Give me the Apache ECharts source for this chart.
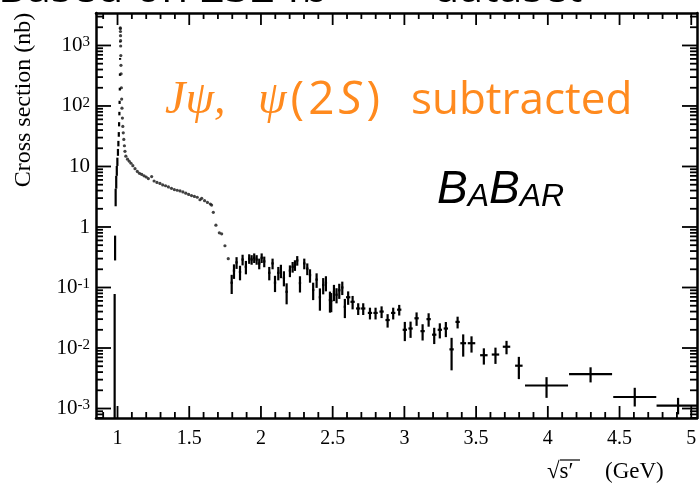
<!DOCTYPE html>
<html>
<head>
<meta charset="utf-8">
<script src="https://cdn.jsdelivr.net/npm/echarts@6/dist/echarts.min.js"></script>
<style>
  html, body { margin: 0; padding: 0; background: #fff; }
  #chart { width: 700px; height: 487px; }
</style>
</head>
<body>
<div id="chart"></div>
<script>
// e+e- -> K+K- cross section (nb) versus sqrt(s') (GeV), phi(1020) region and above.

// Rising edge of the phi peak: points with vertical error bars
const risingX  = [0.980, 0.983, 0.987, 0.991, 0.995, 0.999, 1.003, 1.006, 1.009, 1.011, 1.013, 1.0145, 1.016, 1.017, 1.018, 1.019];
const risingY  = [0.03, 0.45, 3.2, 5.6, 8.5, 12, 17, 24, 34, 50, 75, 115, 190, 330, 600, 1150];
const risingLo = [0.0001, 0.28, 2.2, 4.3, 7.0, 10.2, 15, 21.5, 31, 46, 70, 108, 180, 315, 580, 1120];
const risingHi = [0.078, 0.72, 4.3, 7.0, 10.2, 14, 19.5, 26.5, 37, 54, 80, 122, 200, 345, 620, 1180];

// Top and falling edge of the peak (small errors, drawn as dots)
const peakX = [1.0195, 1.020, 1.0205, 1.021, 1.0215, 1.022, 1.023, 1.024, 1.025, 1.027, 1.029, 1.031, 1.034, 1.037, 1.040, 1.044, 1.048, 1.052];
const peakY = [1950, 1900, 1700, 1450, 1200, 980, 680, 470, 340, 200, 130, 92, 63, 46, 36, 28, 22, 17.8];

// Continuum up to the drop near 1.7 GeV (dots)
const contX = [1.058, 1.070, 1.082, 1.094, 1.107, 1.122, 1.138, 1.153, 1.169, 1.185, 1.200, 1.215, 1.238, 1.255, 1.275, 1.296, 1.315, 1.335, 1.355, 1.376,
               1.396, 1.416, 1.436, 1.456, 1.476, 1.496, 1.516, 1.536, 1.556, 1.575, 1.587, 1.607, 1.627, 1.647, 1.656, 1.668, 1.686, 1.710, 1.726, 1.749, 1.772];
const contY = [14.8, 13.2, 12.2, 11.3, 10.3, 9.2, 8.3, 7.7, 7.4, 7.0, 6.7, 6.3, 6.8, 5.75, 5.45, 5.25, 4.95, 4.8, 4.6, 4.35,
               4.15, 4.05, 3.95, 3.8, 3.62, 3.45, 3.3, 3.2, 3.1, 2.82, 2.98, 2.72, 2.55, 2.4, 2.3, 1.75, 1.07, 0.80, 0.77, 0.49, 0.30];

// Binned points above 1.78 GeV: value, relative error, half bin width
const binX = [1.796, 1.812, 1.830, 1.854, 1.872, 1.895, 1.918, 1.935, 1.953, 1.970, 1.988, 2.005, 2.023, 2.058, 2.081, 2.098, 2.121, 2.139, 2.160, 2.179,
              2.202, 2.221, 2.237, 2.253, 2.272, 2.302, 2.323, 2.342, 2.364, 2.388, 2.411, 2.434, 2.453, 2.481, 2.490, 2.509, 2.527, 2.546, 2.567, 2.585,
              2.608, 2.639, 2.678, 2.713, 2.760, 2.799, 2.841, 2.883, 2.922, 2.964, 3.003, 3.043, 3.085, 3.127, 3.169, 3.208, 3.247, 3.289, 3.329, 3.371,
              3.410, 3.468, 3.554, 3.635, 3.712, 3.798];
const binY = [0.12, 0.19, 0.26, 0.18, 0.29, 0.22, 0.30, 0.29, 0.31, 0.29, 0.25, 0.31, 0.27, 0.175, 0.25, 0.12, 0.175, 0.19, 0.145, 0.085,
              0.19, 0.22, 0.235, 0.28, 0.118, 0.25, 0.205, 0.16, 0.091, 0.135, 0.069, 0.11, 0.12, 0.062, 0.060, 0.085, 0.076, 0.090, 0.100, 0.048,
              0.069, 0.058, 0.045, 0.045, 0.038, 0.038, 0.040, 0.029, 0.038, 0.043, 0.020, 0.021, 0.031, 0.019, 0.030, 0.0166, 0.020, 0.021, 0.0095, 0.027,
              0.012, 0.012, 0.0076, 0.0078, 0.0105, 0.0051];
const binErr = [0.35, 0.27, 0.22, 0.27, 0.2, 0.25, 0.18, 0.18, 0.18, 0.18, 0.2, 0.18, 0.2, 0.25, 0.2, 0.3, 0.25, 0.25, 0.28, 0.38,
                0.22, 0.2, 0.2, 0.18, 0.3, 0.2, 0.22, 0.25, 0.32, 0.27, 0.4, 0.3, 0.28, 0.38, 0.35, 0.3, 0.28, 0.28, 0.25, 0.35,
                0.25, 0.25, 0.22, 0.22, 0.22, 0.22, 0.22, 0.25, 0.22, 0.2, 0.35, 0.3, 0.25, 0.3, 0.25, 0.3, 0.28, 0.28, 0.55, 0.22,
                0.4, 0.3, 0.3, 0.3, 0.25, 0.4];
const binHalfWidth = [0.008, 0.008, 0.008, 0.008, 0.008, 0.008, 0.008, 0.008, 0.008, 0.008, 0.008, 0.008, 0.008, 0.008, 0.008, 0.008, 0.008, 0.008, 0.008, 0.008,
                      0.008, 0.008, 0.008, 0.008, 0.008, 0.008, 0.008, 0.008, 0.008, 0.008, 0.008, 0.008, 0.008, 0.008, 0.008, 0.008, 0.008, 0.008, 0.008, 0.008,
                      0.015, 0.015, 0.015, 0.015, 0.015, 0.015, 0.015, 0.015, 0.015, 0.015, 0.015, 0.015, 0.015, 0.015, 0.015, 0.015, 0.015, 0.015, 0.015, 0.015,
                      0.02, 0.026, 0.026, 0.026, 0.026, 0.026];

// Wide bins at high mass
const wideX = [3.991, 4.298, 4.606, 4.908];
const wideY = [0.0024, 0.0037, 0.00155, 0.00112];
const wideLo = [0.0015, 0.0027, 0.00108, 0.0008];
const wideHi = [0.0033, 0.0048, 0.0022, 0.0015];
const wideHalfWidth = [0.15, 0.15, 0.15, 0.15];

// Axis ranges and ticks
const xRange = [0.85, 5.04];
const xMajorTicks = [1, 1.5, 2, 2.5, 3, 3.5, 4, 4.5, 5];
const xTickLabels = ['1', '1.5', '2', '2.5', '3', '3.5', '4', '4.5', '5'];
const xMinorTicks = [0.9, 1.1, 1.2, 1.3, 1.4, 1.6, 1.7, 1.8, 1.9, 2.1, 2.2, 2.3, 2.4, 2.6, 2.7, 2.8, 2.9,
                     3.1, 3.2, 3.3, 3.4, 3.6, 3.7, 3.8, 3.9, 4.1, 4.2, 4.3, 4.4, 4.6, 4.7, 4.8, 4.9];
const yRangeNb = [6.97e-4, 3440];
const yDecadeExponents = [-3, -2, -1, 0, 1, 2, 3];
const yMinorMultipliers = [2, 3, 4, 5, 6, 7, 8, 9];

const SERIF = "'Liberation Serif', 'DejaVu Serif', serif";
const SANS = "'Open Sans', 'Liberation Sans', sans-serif";
const ORANGE = '#FF8A1E';
const lg = Math.log10;

const GRID = { left: 96, right: 3, top: 13, bottom: 69 };
const PLOT_W = 700 - GRID.left - GRID.right;
const PLOT_H = 487 - GRID.top - GRID.bottom;

const yMin = lg(yRangeNb[0]), yMax = lg(yRangeNb[1]);
const yMinor = [];
for (let e = -4; e <= 3; e++) {
  yMinorMultipliers.forEach(m => {
    const v = lg(m) + e;
    if (v > yMin && v < yMax) yMinor.push(v);
  });
}

function yLabel(v) {
  const e = Math.round(v);
  if (e === 0) return '{m|1}';
  if (e === 1) return '{m|10}';
  return '{m|10}{s|' + e + '}';
}

// Segment data: [x, log y, log low, log high, half width]
const markData = [];
risingX.forEach((x, i) => markData.push([x, lg(risingY[i]), lg(risingLo[i]), lg(risingHi[i]), 0]));
binX.forEach((x, i) => {
  const y = binY[i], e = binErr[i];
  markData.push([x, lg(y), lg(y * (1 - e)), lg(y * (1 + e)), binHalfWidth[i]]);
});
wideX.forEach((x, i) => markData.push([x, lg(wideY[i]), lg(wideLo[i]), lg(wideHi[i]), wideHalfWidth[i]]));

const dotData = [];
peakX.forEach((x, i) => dotData.push([x, lg(peakY[i])]));
contX.forEach((x, i) => dotData.push([x, lg(contY[i])]));

// Frame tick marks as small filled bars, inward on all four sides
function xPos(v) { return GRID.left + (v - xRange[0]) / (xRange[1] - xRange[0]) * PLOT_W; }
function yPos(v) { return GRID.top + (yMax - v) / (yMax - yMin) * PLOT_H; }
const tickGraphics = [];
function tickRect(x, y, w, h) {
  return { type: 'rect', z: 60, silent: true, shape: { x: x, y: y, width: w, height: h }, style: { fill: '#000' } };
}
function addXTick(v, len) {
  const p = xPos(v);
  tickGraphics.push(tickRect(p - 0.9, GRID.top, 1.8, len));
  tickGraphics.push(tickRect(p - 0.9, GRID.top + PLOT_H - len, 1.8, len));
}
function addYTick(v, len) {
  const p = yPos(v);
  tickGraphics.push(tickRect(GRID.left, p - 0.9, len, 1.8));
  tickGraphics.push(tickRect(GRID.left + PLOT_W - len, p - 0.9, len, 1.8));
}
xMajorTicks.forEach(v => addXTick(v, 12));
xMinorTicks.forEach(v => addXTick(v, 6));
yDecadeExponents.forEach(v => addYTick(v, 15));
yMinor.forEach(v => addYTick(v, 7));

const textGraphics = [
  { type: 'text', x: -2, y: 11, style: { text: 'Based on 232 fb', fontFamily: SANS, fontSize: 44, fill: '#000', verticalAlign: 'bottom' } },
  { type: 'text', x: 433, y: 11, style: { text: 'dataset', fontFamily: SANS, fontSize: 43, fill: '#000', verticalAlign: 'bottom' } },
  {
    type: 'text', x: 24, y: 100, rotation: Math.PI / 2,
    style: { text: 'Cross section (nb)', fontFamily: SERIF, fontSize: 24, fill: '#000', align: 'center', verticalAlign: 'middle' }
  },
  { type: 'text', x: 547, y: 472, style: { text: '√s′', fontFamily: SERIF, fontSize: 23, fill: '#000', verticalAlign: 'middle' } },
  { type: 'line', shape: { x1: 560, y1: 460, x2: 580, y2: 460 }, style: { stroke: '#000', lineWidth: 1.2 } },
  { type: 'text', x: 605, y: 472, style: { text: '(GeV)', fontFamily: SERIF, fontSize: 23, fill: '#000', verticalAlign: 'middle' } },
  { type: 'text', x: 165, y: 101, style: { text: 'Jψ,', fontFamily: SERIF, fontStyle: 'italic', fontSize: 46, fill: ORANGE, verticalAlign: 'middle' } },
  {
    type: 'text', x: 258, y: 101,
    style: {
      text: '{i|ψ}{n|(}{n|2}{si|S}{n|)}',
      verticalAlign: 'middle',
      rich: {
        i: { fontFamily: SERIF, fontStyle: 'italic', fontSize: 46, fill: ORANGE, lineHeight: 50, padding: [0, 2, 0, 0] },
        n: { fontFamily: SANS, fontSize: 46, fill: ORANGE, lineHeight: 50, padding: [0, 2, 0, 2] },
        si: { fontFamily: SANS, fontStyle: 'italic', fontSize: 46, fill: ORANGE, lineHeight: 50, padding: [0, 3, 0, 2] }
      }
    }
  },
  { type: 'text', x: 411, y: 101, style: { text: 'subtracted', fontFamily: SANS, fontSize: 44, fill: ORANGE, verticalAlign: 'middle' } },
  {
    type: 'text', x: 437, y: 190,
    style: {
      text: '{b|B}{a|A}{b|B}{a|AR}',
      verticalAlign: 'middle',
      rich: {
        b: { fontFamily: "'Liberation Sans', sans-serif", fontStyle: 'italic', fontSize: 46, lineHeight: 46, fill: '#000', verticalAlign: 'bottom' },
        a: { fontFamily: "'Liberation Sans', sans-serif", fontStyle: 'italic', fontSize: 32, lineHeight: 37, fill: '#000', verticalAlign: 'bottom' }
      }
    }
  }
];

const chart = echarts.init(document.getElementById('chart'), null, { renderer: 'canvas' });

chart.setOption({
  animation: false,
  backgroundColor: '#fff',
  grid: { left: GRID.left, right: GRID.right, top: GRID.top, bottom: GRID.bottom },
  xAxis: [{
    type: 'value', min: xRange[0], max: xRange[1], position: 'bottom',
    axisLine: { show: true, onZero: false, lineStyle: { color: '#000', width: 2.5 } },
    axisTick: { show: false }, splitLine: { show: false },
    axisLabel: {
      show: true, customValues: xMajorTicks, margin: 11, color: '#000',
      fontFamily: SERIF, fontSize: 20,
      formatter: v => xTickLabels[xMajorTicks.findIndex(t => Math.abs(t - v) < 1e-6)]
    }
  }, {
    type: 'value', min: xRange[0], max: xRange[1], position: 'top',
    axisLine: { show: true, onZero: false, lineStyle: { color: '#000', width: 2.5 } },
    axisTick: { show: false }, axisLabel: { show: false }, splitLine: { show: false }
  }],
  yAxis: [{
    type: 'value', min: yMin, max: yMax, position: 'left',
    axisLine: { show: true, onZero: false, lineStyle: { color: '#000', width: 2.5 } },
    axisTick: { show: false }, splitLine: { show: false },
    axisLabel: {
      show: true, customValues: yDecadeExponents, margin: 6, formatter: yLabel,
      rich: {
        m: { fontFamily: SERIF, fontSize: 21, lineHeight: 21, color: '#000', verticalAlign: 'bottom' },
        s: { fontFamily: SERIF, fontSize: 15, lineHeight: 15, color: '#000', verticalAlign: 'top', padding: [0, 0, 13, 0] }
      }
    }
  }, {
    type: 'value', min: yMin, max: yMax, position: 'right',
    axisLine: { show: true, onZero: false, lineStyle: { color: '#000', width: 2.5 } },
    axisTick: { show: false }, axisLabel: { show: false }, splitLine: { show: false }
  }],
  series: [
    {
      type: 'custom', clip: true, xAxisIndex: 0, yAxisIndex: 0,
      data: markData,
      encode: { x: 0, y: 1 },
      renderItem: function (params, api) {
        const x = api.value(0), y = api.value(1), lo = api.value(2), hi = api.value(3), hw = api.value(4);
        const c = api.coord([x, y]);
        const pLo = api.coord([x, lo]);
        const pHi = api.coord([x, hi]);
        const children = [{
          type: 'line',
          shape: { x1: c[0], y1: pHi[1], x2: c[0], y2: pLo[1] },
          style: { stroke: '#000', lineWidth: 2.2 }
        }];
        if (hw > 0) {
          const pL = api.coord([x - hw, y]);
          const pR = api.coord([x + hw, y]);
          children.push({
            type: 'line',
            shape: { x1: pL[0], y1: c[1], x2: pR[0], y2: c[1] },
            style: { stroke: '#000', lineWidth: 2.2 }
          });
        }
        return { type: 'group', children: children };
      }
    },
    {
      type: 'scatter', clip: true, xAxisIndex: 0, yAxisIndex: 0,
      data: dotData, symbol: 'circle', symbolSize: 3.2,
      itemStyle: { color: '#111' }
    }
  ],
  graphic: { elements: textGraphics.concat(tickGraphics) }
});
</script>
</body>
</html>
